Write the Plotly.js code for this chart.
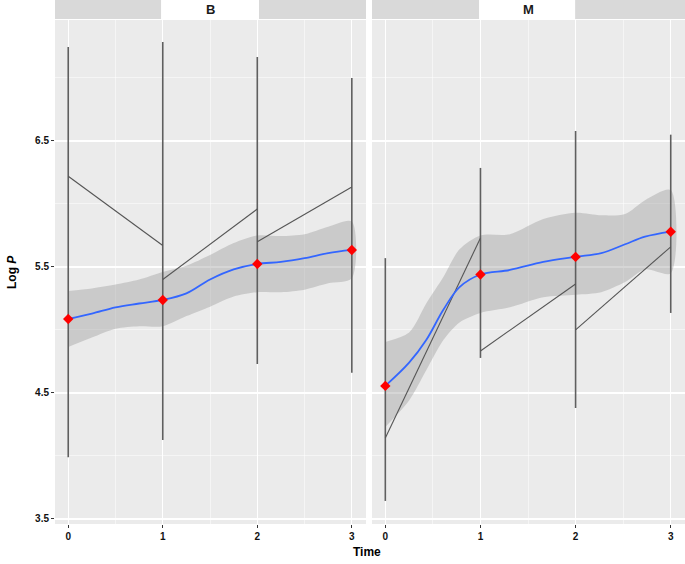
<!DOCTYPE html>
<html>
<head>
<meta charset="utf-8">
<script src="https://cdn.plot.ly/plotly-3.0.1.min.js"></script>
<style>html,body{margin:0;padding:0;background:#fff;}</style>
</head>
<body>
<div id="chart" style="width:685px;height:564px;"></div>
<script>
// ---- data ----
const panels = ["B", "M"];
const times = [0, 1, 2, 3];
const tickVals = [3.5, 4.5, 5.5, 6.5];
const tickText = ["3.5", "4.5", "5.5", "6.5"];

// Panel B
const B_mean = [5.087, 5.238, 5.524, 5.635];
const B_high = [7.246, 7.286, 7.167, 7.0];
const B_low = [3.99, 4.127, 4.73, 4.66];
const B_segStart = [6.22, 5.40, 5.70];
const B_segEnd = [5.67, 5.96, 6.135];
const B_smoothT = [0, 0.25, 0.5, 0.75, 1, 1.25, 1.5, 1.75, 2, 2.25, 2.5, 2.75, 3];
const B_smooth = [5.087, 5.13, 5.18, 5.21, 5.238, 5.29, 5.40, 5.48, 5.524, 5.54, 5.57, 5.61, 5.635];
const B_bandLo = [4.865, 4.94, 5.01, 5.03, 5.03, 5.11, 5.185, 5.265, 5.30, 5.30, 5.32, 5.37, 5.41];
const B_bandHi = [5.31, 5.33, 5.36, 5.40, 5.46, 5.51, 5.595, 5.69, 5.75, 5.745, 5.76, 5.82, 5.86];

// Panel M
const M_mean = [4.556, 5.44, 5.58, 5.78];
const M_high = [5.57, 6.286, 6.58, 6.55];
const M_low = [3.643, 4.778, 4.38, 5.135];
const M_segStart = [4.143, 4.833, 5.0];
const M_segEnd = [5.73, 5.365, 5.66];
const M_smoothT = [0, 0.25, 0.43, 0.61, 0.78, 1, 1.31, 1.66, 2, 2.27, 2.52, 2.73, 3];
const M_smooth = [4.556, 4.74, 4.92, 5.16, 5.34, 5.44, 5.476, 5.54, 5.58, 5.61, 5.68, 5.74, 5.78];
const M_bandLo = [4.23, 4.44, 4.68, 4.92, 5.06, 5.135, 5.18, 5.26, 5.28, 5.30, 5.38, 5.48, 5.45];
const M_bandHi = [4.905, 4.98, 5.21, 5.42, 5.64, 5.75, 5.76, 5.88, 5.93, 5.91, 5.92, 6.03, 6.11];

// ---- build traces ----
function panelTraces(xa, ya, mean, high, low, segS, segE, sT, sY, lo, hi) {
  const tr = [];
  // confidence band polygon
  tr.push({
    x: sT.concat(sT.slice().reverse()),
    y: hi.concat(lo.slice().reverse()),
    fill: 'toself', fillcolor: 'rgba(153,153,153,0.4)',
    line: {width: 0, shape: 'spline', smoothing: 0.8}, mode: 'lines', xaxis: xa, yaxis: ya, hoverinfo: 'skip'
  });
  // whiskers
  const wx = [], wy = [];
  times.forEach((t, i) => { wx.push(t, t, null); wy.push(low[i], high[i], null); });
  tr.push({x: wx, y: wy, mode: 'lines', line: {color: '#5f5f5f', width: 1.6},
    xaxis: xa, yaxis: ya});
  // connecting segments
  const sx = [], sy = [];
  segS.forEach((v, i) => { sx.push(times[i], times[i + 1], null); sy.push(v, segE[i], null); });
  tr.push({x: sx, y: sy, mode: 'lines', line: {color: '#555555', width: 1.1},
    xaxis: xa, yaxis: ya});
  // smooth curve
  tr.push({x: sT, y: sY, mode: 'lines', line: {color: '#3366FF', width: 1.8, shape: 'spline'},
    xaxis: xa, yaxis: ya});
  // mean points
  tr.push({x: times, y: mean, mode: 'markers',
    marker: {color: '#FF0000', size: 8, symbol: 'diamond'}, xaxis: xa, yaxis: ya});
  return tr;
}

const data = [].concat(
  panelTraces('x', 'y', B_mean, B_high, B_low, B_segStart, B_segEnd, B_smoothT, B_smooth, B_bandLo, B_bandHi),
  panelTraces('x2', 'y2', M_mean, M_high, M_low, M_segStart, M_segEnd, M_smoothT, M_smooth, M_bandLo, M_bandHi)
);

const tickFont = {family: 'Liberation Sans, Arial, sans-serif', size: 10, color: '#111'};
function xAxis(domain) {
  return {
    domain: domain, range: [-0.14, 3.15], tickvals: times, ticktext: times.map(String),
    showgrid: true, gridcolor: '#ffffff', gridwidth: 1.1,
    minor: {dtick: 0.5, tick0: 0, showgrid: true, gridcolor: '#ffffff', gridwidth: 0.5, ticks: ''},
    ticks: 'outside', ticklen: 3, tickcolor: '#333', tickwidth: 1,
    tickfont: Object.assign({}, tickFont, {weight: 'bold'}), zeroline: false, showline: false,
    fixedrange: true
  };
}
function yAxis(show, anchor) {
  return {
    anchor: anchor, range: [3.46, 7.46], tickvals: tickVals, ticktext: tickText,
    showgrid: true, gridcolor: '#ffffff', gridwidth: 1.1,
    minor: {dtick: 0.5, tick0: 3.5, showgrid: true, gridcolor: '#ffffff', gridwidth: 0.5, ticks: ''},
    ticks: show ? 'outside' : '', ticklen: 3, tickcolor: '#333', showticklabels: show,
    tickfont: Object.assign({}, tickFont, {weight: 'bold'}), zeroline: false, showline: false
  };
}

const stripY0 = 1 + 1 / 504, stripY1 = 1 + 20 / 504;
const shapes = [];
[['x', 0.341, 0.656], ['x2', 0.342, 0.649]].forEach(([xr, a, b]) => {
  shapes.push({type: 'rect', xref: xr + ' domain', yref: 'paper', x0: 0, x1: 1, y0: stripY0, y1: stripY1,
    fillcolor: '#D9D9D9', line: {width: 0}, layer: 'below'});
  shapes.push({type: 'rect', xref: xr + ' domain', yref: 'paper', x0: a, x1: b, y0: stripY0, y1: stripY1,
    fillcolor: '#FFFFFF', line: {width: 0}, layer: 'below'});
});

const annotations = panels.map((p, i) => ({
  text: p, xref: (i === 0 ? 'x' : 'x2') + ' domain', yref: 'paper', x: 0.5, y: (stripY0 + stripY1) / 2,
  xanchor: 'center', yanchor: 'middle', showarrow: false,
  font: {family: 'Liberation Sans, Arial, sans-serif', size: 13, color: '#1a1a1a', weight: 'bold'}
}));
annotations.push({
  text: '<b>Time</b>', xref: 'paper', yref: 'paper', x: (367 - 55) / 630, y: -28 / 504,
  xanchor: 'center', yanchor: 'middle', showarrow: false,
  font: {family: 'Liberation Sans, Arial, sans-serif', size: 12, color: '#000'}
});
annotations.push({
  text: '<b>Log <i>P</i></b>', xref: 'paper', yref: 'paper', x: (12 - 55) / 630, y: 0.5,
  xanchor: 'center', yanchor: 'middle', textangle: -90, showarrow: false,
  font: {family: 'Liberation Sans, Arial, sans-serif', size: 12, color: '#000'}
});

const layout = {
  width: 685, height: 564,
  margin: {l: 55, r: 0, t: 20, b: 40, pad: 0},
  paper_bgcolor: '#ffffff', plot_bgcolor: '#EBEBEB',
  showlegend: false,
  xaxis: xAxis([0, 311 / 630]),
  xaxis2: xAxis([317 / 630, 1]),
  yaxis: yAxis(true, 'x'),
  yaxis2: Object.assign(yAxis(false, 'x2'), {matches: 'y'}),
  shapes: shapes,
  annotations: annotations
};

Plotly.newPlot('chart', data, layout, {displayModeBar: false, staticPlot: true});
</script>
</body>
</html>
